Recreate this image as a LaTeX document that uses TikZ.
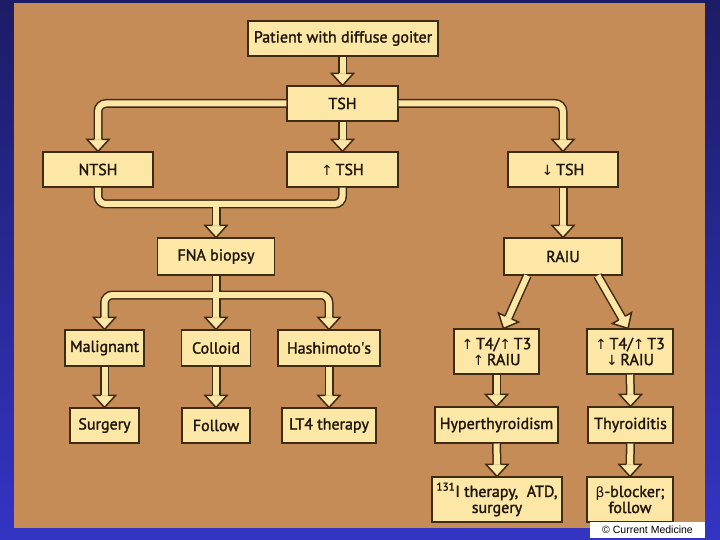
\documentclass[tikz,border=0pt]{standalone}
\usepackage{fontspec}
\setmainfont{PT Sans}[FakeBold=1.6]
\newfontfamily\symf{DejaVu Sans}
\newfontfamily\cmf{Liberation Sans}
\usetikzlibrary{calc}
\definecolor{bgtop}{HTML}{1C1C66}
\definecolor{bgbot}{HTML}{3434C4}
\definecolor{panel}{HTML}{C68C57}
\definecolor{boxfill}{HTML}{FCE7A6}
\definecolor{edge}{HTML}{3F2A12}
\definecolor{ink}{HTML}{20150A}
\newcommand\up{{\symf\fontsize{14}{15}\selectfont ↑}}
\newcommand\dn{{\symf\fontsize{14}{15}\selectfont ↓}}
\newcommand\ahead[2]{%
 \filldraw[headst] ($(#2)!3.7pt!90:(#1)$) -- ($(#2)!11pt!90:(#1)$) -- (#1) -- ($(#2)!11pt!-90:(#1)$) -- ($(#2)!3.7pt!-90:(#1)$);}
\newcommand\shafts[1]{%
 \draw[#1] (pat.south -| tsh.north) -- (b1);
 \draw[#1] (tsh.west) -| (b2);
 \draw[#1] (tsh.south) -- (b3);
 \draw[#1] (tsh.east) -| (b4);
 \draw[#1] (ntsh.south) -- (ntsh.south |- j1) -- (uptsh.south |- j1) -- (uptsh.south);
 \draw[#1] (j1) -- (b5);
 \draw[#1] (dntsh.south) -- (b6);
 \draw[#1] (fna.south) -- (b8);
 \draw[#1] (b7) |- (k) -| (b9);
 \draw[#1] (mal.south) -- (b10);
 \draw[#1] (col.south) -- (b11);
 \draw[#1] (hash.south) -- (b12);
 \draw[#1] (s1) -- (b13);
 \draw[#1] (s2) -- (b14);
 \draw[#1] (t4a.south) -- (b15);
 \draw[#1] (hyper.south) -- (b16);
 \draw[#1] (t4b.south) -- (b17);
 \draw[#1] (thy.south) -- (b18);
}
\begin{document}
\begin{tikzpicture}[x=1pt,y=-1pt,
 box/.style={draw=edge,fill=boxfill,line width=1.1pt,inner sep=1pt,align=center,text=ink,font=\fontsize{16}{18}\selectfont},
 shout/.style={draw=edge,line width=9pt,rounded corners=8pt},
 shin/.style={draw=boxfill,line width=6pt,rounded corners=8pt},
 headst/.style={fill=boxfill,draw=edge,line width=1.5pt,line join=miter}]
\useasboundingbox (0,0) rectangle (720,540);
\shade[top color=bgtop,bottom color=bgbot] (0,0) rectangle (720,540);
\fill[panel] (14,3) rectangle (705,528);
% nodes
\node[box,minimum width=190pt,minimum height=35pt] (pat) at (343,38.5) {Patient with diffuse goiter};
\node[box,minimum width=111pt,minimum height=35pt] (tsh) at (342.5,103.5) {TSH};
\node[box,minimum width=110pt,minimum height=35pt] (ntsh) at (98,169.5) {NTSH};
\node[box,minimum width=111pt,minimum height=35pt] (uptsh) at (342.5,169.5) {\up\,TSH};
\node[box,minimum width=110pt,minimum height=35pt] (dntsh) at (563,169.5) {\dn\,TSH};
\node[box,minimum width=117pt,minimum height=37pt] (fna) at (216,256.5) {FNA biopsy};
\node[box,minimum width=118pt,minimum height=37pt] (raiu) at (563,256.5) {RAIU};
\node[box,minimum width=79pt,minimum height=36pt] (mal) at (104.5,348) {Malignant};
\node[box,minimum width=69pt,minimum height=36pt] (col) at (216,348) {Colloid};
\node[box,minimum width=102pt,minimum height=36pt] (hash) at (329,348) {Hashimoto\textquotesingle s};
\node[box,minimum width=69pt,minimum height=35pt] (surg) at (104.5,425.5) {Surgery};
\node[box,minimum width=68pt,minimum height=35pt] (foll) at (216,425.5) {Follow};
\node[box,minimum width=94pt,minimum height=35pt] (lt4) at (329,425.5) {LT4 therapy};
\node[box,minimum width=85pt,minimum height=45pt,font=\fontsize{16}{16}\selectfont] (t4a) at (496.5,351.5) {\up\,T4/\up\,T3\\\up\,RAIU};
\node[box,minimum width=86pt,minimum height=45pt,font=\fontsize{16}{16}\selectfont] (t4b) at (630,351.5) {\up\,T4/\up\,T3\\\dn\,RAIU};
\node[box,minimum width=123pt,minimum height=36pt] (hyper) at (496.5,425) {Hyperthyroidism};
\node[box,minimum width=85pt,minimum height=36pt] (thy) at (630.5,425) {Thyroiditis};
\node[box,minimum width=130pt,minimum height=45pt,font=\fontsize{16}{16}\selectfont] (i131) at (497,499.5) {\textsuperscript{131}I therapy,~ ATD,\\surgery};
\node[box,minimum width=86pt,minimum height=45pt,font=\fontsize{16}{16}\selectfont] (beta) at (630,499.5) {{\symf\fontsize{14}{15}\selectfont β}-blocker;\\follow};
\node[fill=white,inner sep=0pt,minimum width=115pt,minimum height=16pt,font=\cmf\fontsize{10.5}{12}\selectfont] (cr) at (647.5,530) {© Current Medicine};
% connector points
\coordinate (j1) at (216,204);
\coordinate (k) at (216,295);
\coordinate (s1) at ($(raiu.south west)!0.2!(raiu.south east)$);
\coordinate (s2) at ($(raiu.south west)!0.79!(raiu.south east)$);
\coordinate (ta) at ($(t4a.north)+(7,0)$);
\coordinate (tb) at ($(t4b.north)+(-2,0)$);
\coordinate (b1) at ($(tsh.north)+(0,-12)$);
\coordinate (b2) at ($(ntsh.north)+(0,-12)$);
\coordinate (b3) at ($(uptsh.north)+(0,-12)$);
\coordinate (b4) at ($(dntsh.north)+(0,-12)$);
\coordinate (b5) at ($(fna.north)+(0,-12)$);
\coordinate (b6) at ($(raiu.north)+(0,-12)$);
\coordinate (b7) at ($(mal.north)+(0,-12)$);
\coordinate (b8) at ($(col.north)+(0,-12)$);
\coordinate (b9) at ($(hash.north)+(0,-12)$);
\coordinate (b10) at ($(surg.north)+(0,-12)$);
\coordinate (b11) at ($(foll.north)+(0,-12)$);
\coordinate (b12) at ($(lt4.north)+(0,-12)$);
\coordinate (b13) at ($(ta)!12pt!(s1)$);
\coordinate (b14) at ($(tb)!12pt!(s2)$);
\coordinate (b15) at ($(hyper.north)+(0,-12)$);
\coordinate (b16) at ($(i131.north)+(0,-12)$);
\coordinate (b17) at ($(thy.north)+(0,-12)$);
\coordinate (b18) at ($(beta.north)+(0,-12)$);
\shafts{shout}
\shafts{shin}
\ahead{tsh.north}{b1}
\ahead{ntsh.north}{b2}
\ahead{uptsh.north}{b3}
\ahead{dntsh.north}{b4}
\ahead{fna.north}{b5}
\ahead{raiu.north}{b6}
\ahead{mal.north}{b7}
\ahead{col.north}{b8}
\ahead{hash.north}{b9}
\ahead{surg.north}{b10}
\ahead{foll.north}{b11}
\ahead{lt4.north}{b12}
\ahead{ta}{b13}
\ahead{tb}{b14}
\ahead{hyper.north}{b15}
\ahead{i131.north}{b16}
\ahead{thy.north}{b17}
\ahead{beta.north}{b18}
\end{tikzpicture}
\end{document}
